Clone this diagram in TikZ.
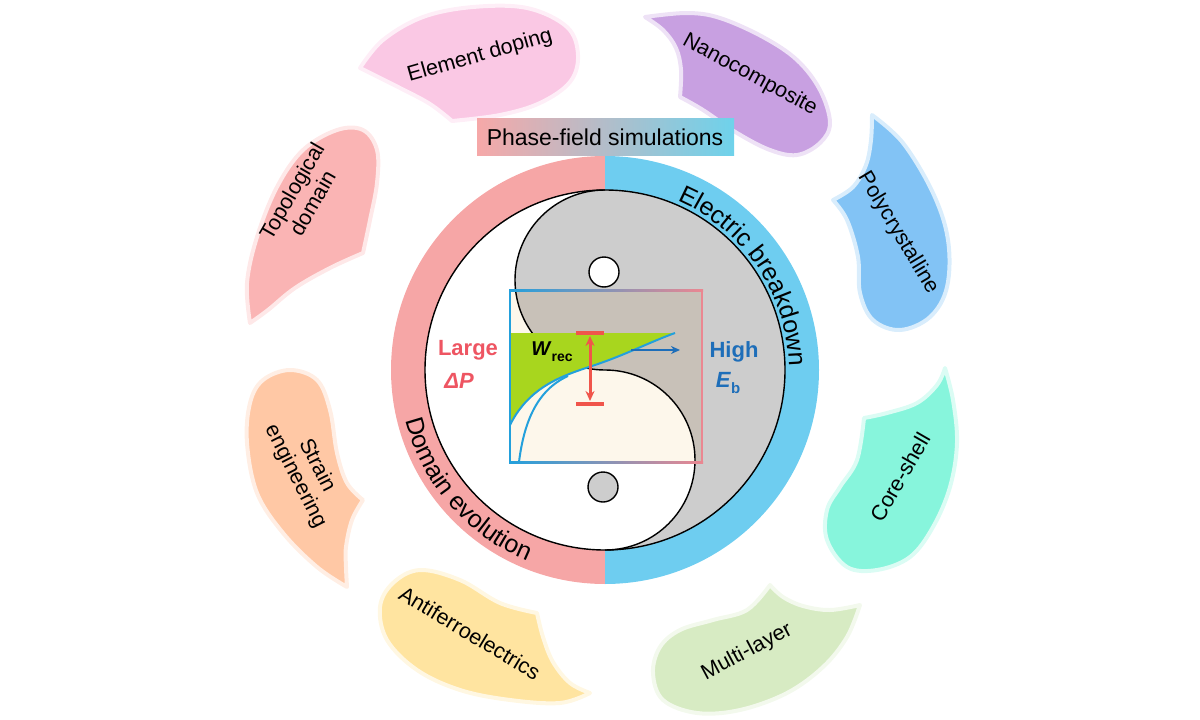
\documentclass[tikz,border=0pt]{standalone}
\usepackage{fontspec}
\setmainfont{Liberation Sans}
\usetikzlibrary{decorations.text,arrows.meta}
\definecolor{ringpink}{RGB}{246,166,166}
\definecolor{ringblue}{RGB}{110,205,240}
\definecolor{yygray}{RGB}{205,205,205}
\definecolor{cream}{RGB}{253,247,235}
\definecolor{tangray}{RGB}{200,193,184}
\definecolor{wgreen}{RGB}{168,214,30}
\definecolor{cblue}{RGB}{35,160,220}
\definecolor{dblue}{RGB}{30,110,185}
\definecolor{redc}{RGB}{240,85,75}
\definecolor{lred}{RGB}{238,85,98}
\definecolor{fpink}{RGB}{235,135,145}
\definecolor{pfl}{RGB}{246,168,168}
\definecolor{pfm}{RGB}{222,232,180}
\definecolor{pfr}{RGB}{110,210,235}
\definecolor{cpink}{RGB}{250,200,228}
\definecolor{clav}{RGB}{200,160,225}
\definecolor{cblu}{RGB}{130,195,245}
\definecolor{caqua}{RGB}{135,245,220}
\definecolor{cgreen}{RGB}{215,235,195}
\definecolor{cyellow}{RGB}{255,228,160}
\definecolor{cpeach}{RGB}{255,200,165}
\definecolor{csalmon}{RGB}{250,180,180}
\tikzset{
  petal/.style={fill=#1, draw=#1!30!white, line width=4pt, line join=round},
  ptext/.style={font=\fontsize{21.5}{24}\selectfont, align=center, text=black, inner sep=0pt},
  bcurve/.style={cblue, line width=2pt},
  lbl/.style={font=\fontsize{22}{24}\selectfont\bfseries, inner sep=0pt}
}
\newcommand\mypetal[4]{\draw[petal=#1] plot[smooth,tension=0.6] coordinates {#2} -- plot[smooth,tension=0.6] coordinates {#3} -- cycle; #4}
\newcommand\yygraypath{(605,190) arc[start angle=-90,end angle=90,radius=180] arc[start angle=90,end angle=-90,radius=90] arc[start angle=90,end angle=270,radius=90] -- cycle}
\begin{document}
\begin{tikzpicture}[x=1pt,y=-1pt]
\useasboundingbox (0,0) rectangle (1200,720);
% petals
\mypetal{cpink}{(360,68) (383,40) (423,17) (473,7) (527,8) (567,27) (578,55) (570,82) (540,103) (500,115) (452,121)}{(452,121) (430,104) (400,88) (360,68)}{\node[ptext, rotate=16] (p1) at (480,56) {Element doping};}
\mypetal{clav}{(645,17) (687,13) (720,18) (763,37) (797,60) (820,90) (830,123) (820,143) (797,155) (770,150) (737,133) (703,110) (680,97)}{(680,97) (681,70) (676,48) (663,30) (645,17)}{\node[ptext, rotate=-28.5] (p2) at (750,75) {Nanocomposite};}
\mypetal{cblu}{(872,115) (903,143) (933,193) (948,240) (947,287) (930,317) (900,330) (873,320) (860,293) (858,257) (847,220) (833,200)}{(833,200) (853,187) (866,165) (871,140) (872,115)}{\node[ptext, rotate=-59] (p3) at (898,233) {Polycrystalline};}
\mypetal{caqua}{(945,368) (953,400) (957,443) (950,487) (933,527) (910,557) (877,570) (847,567) (827,540) (827,510) (840,487) (857,460) (864,418)}{(864,418) (887,413) (917,403) (937,385) (945,368)}{\node[ptext, rotate=60] (p4) at (900,477) {Core-shell};}
\mypetal{cgreen}{(860,605) (847,637) (823,667) (787,693) (740,710) (697,713) (663,700) (653,673) (660,647) (680,630) (713,620) (747,610) (770,585)}{(770,585) (783,597) (803,606) (830,610) (860,605)}{\node[ptext, rotate=28] (p5) at (747,652) {Multi-layer};}
\mypetal{cyellow}{(590,693) (560,703) (510,700) (460,690) (417,670) (387,640) (380,607) (393,583) (420,570) (460,580) (500,603) (537,613)}{(537,613) (543,637) (553,662) (570,683) (590,693)}{\node[ptext, rotate=-31] (p6) at (470,633) {Antiferroelectrics};}
\mypetal{cpeach}{(347,587) (317,567) (283,533) (257,493) (247,443) (250,403) (263,380) (290,370) (317,380) (330,410) (337,453) (347,483) (363,500)}{(363,500) (352,520) (346,547) (346,567) (347,587)}{\node[ptext, rotate=-63] (p7) at (306,471) {Strain\\engineering};}
\mypetal{csalmon}{(250,323) (247,283) (257,237) (277,187) (303,150) (337,130) (363,130) (377,150) (377,183) (370,220) (363,253)}{(363,253) (330,268) (295,288) (268,310) (250,323)}{\node[ptext, rotate=60] (p8) at (302,197) {Topological\\domain};}
% title box
\shade[left color=pfl, middle color=pfm, right color=pfr] (477,118) rectangle (734,155);
\node[font=\fontsize{23}{26}\selectfont, inner sep=0pt] (title) at (605,137) {Phase-field simulations};
% ring
\fill[ringpink] (605,156) arc[start angle=-90,end angle=-270,radius=214] -- cycle;
\fill[ringblue] (605,156) arc[start angle=-90,end angle=90,radius=214] -- cycle;
% yin-yang
\fill[white] (605,370) circle[radius=180];
\fill[yygray] \yygraypath;
\begin{scope}
  \clip (510,290) rectangle (702,462);
  \fill[cream] (510,290) rectangle (702,462);
  \fill[tangray] \yygraypath;
\end{scope}
\draw[line width=1.4pt] (605,550) arc[start angle=90,end angle=-90,radius=90] arc[start angle=90,end angle=270,radius=90];
\draw[line width=1.4pt] (605,370) circle[radius=180];
\node[circle, draw, line width=1.4pt, fill=white, minimum size=30pt, inner sep=0pt] (wdot) at (604,272) {};
\node[circle, draw, line width=1.4pt, fill=yygray, minimum size=30pt, inner sep=0pt] (gdot) at (603,487) {};
% ring texts
\path[decorate, decoration={text along path, text align=center, text={|\fontsize{25}{25}\selectfont|Electric breakdown}}]
  (605,370) ++(-76:184) arc[start angle=-76,end angle=8,radius=184];
\path[decorate, decoration={text along path, text align=center, text={|\fontsize{25}{25}\selectfont|Domain evolution}}]
  (605,370) ++(-185:206) arc[start angle=-185,end angle=-257,radius=206];
% inset plot
\fill[wgreen] (510,333) -- (675,333) .. controls (650,342) and (625,355) .. (595,365) .. controls (565,375) and (530,385) .. (510,425) -- cycle;
\draw[bcurve] (510,425) .. controls (530,385) and (565,375) .. (595,365) .. controls (625,355) and (650,342) .. (675,333);
\draw[bcurve] (519,462) .. controls (524,422) and (537,390) .. (568,376);
\draw[cblue, line width=2pt] (510,289) -- (510,463);
\draw[fpink, line width=2pt] (702,289) -- (702,463);
\shade[left color=cblue, right color=fpink] (509,289) rectangle (703,291);
\shade[left color=cblue, right color=fpink] (509,461) rectangle (703,463);
% arrows
\coordinate (at) at (590,336);
\coordinate (ab) at (590,401);
\draw[redc, line width=3pt, {Stealth[length=10pt,width=9pt]}-{Stealth[length=10pt,width=9pt]}] (at) -- (ab);
\draw[redc, line width=3.2pt] (576,333) -- (604,333);
\draw[redc, line width=3.2pt] (576,404) -- (604,404);
\coordinate (bs) at (631,350);
\coordinate (be) at (680,350);
\draw[dblue, line width=2pt, -{Stealth[length=9pt,width=8pt]}] (bs) -- (be);
% labels
\node[lbl, font=\fontsize{20}{22}\selectfont\bfseries] (w) at (552,352) {\textit{W}\raisebox{-0.3em}{\fontsize{14}{14}\selectfont rec}};
\node[lbl, text=lred] (large) at (468,350) {Large};
\node[lbl, text=lred] (dp) at (459,381) {\textit{ΔP}};
\node[lbl, text=dblue] (high) at (734,352) {High};
\node[lbl, text=dblue] (eb) at (728,383) {\textit{E}\raisebox{-0.3em}{\fontsize{15}{15}\selectfont b}};
\end{tikzpicture}
\end{document}
